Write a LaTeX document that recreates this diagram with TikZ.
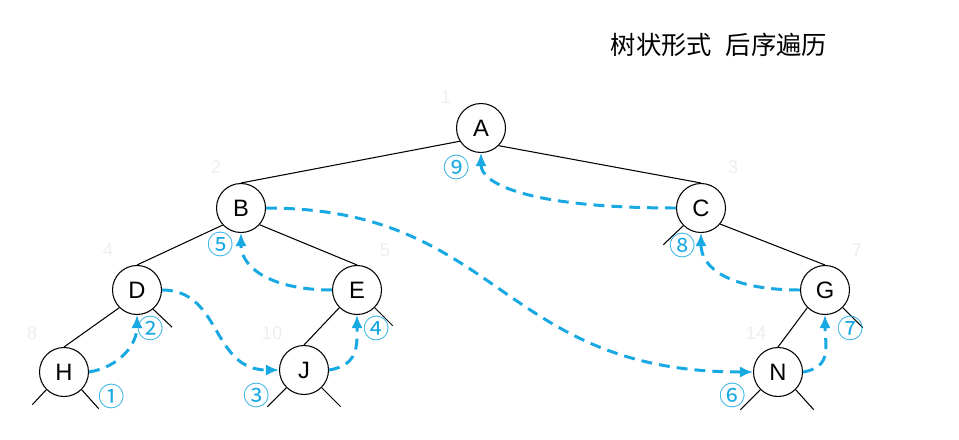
\documentclass[tikz,border=0pt]{standalone}
\usepackage{fontspec}
\setmainfont{Liberation Sans}
\newfontfamily\cjkfont{Noto Sans CJK SC}
\usepackage{tikz}
\usetikzlibrary{arrows.meta}

\definecolor{travblue}{HTML}{18A8E2}
\definecolor{idxgray}{HTML}{EEEEEE}

\begin{document}
\begin{tikzpicture}[x=0.02cm,y=-0.02cm,
  vtx/.style={draw,circle,minimum size=0.98cm,inner sep=0pt,line width=0.6pt,font=\fontsize{13.5}{15}\selectfont},
  idx/.style={text=idxgray,font=\fontsize{10.5}{12}\selectfont},
  ord/.style={text=travblue,font=\cjkfont\fontsize{15}{16}\selectfont,inner sep=0pt},
  visit/.style={travblue,line width=1.7pt,dash pattern=on 6.2pt off 4pt,-{Latex[length=7.5pt,width=6.5pt]}},
  edge/.style={line width=0.6pt}]

\useasboundingbox (0,0) rectangle (959,439);

% Title
\node[font=\cjkfont\fontsize{14.4}{16}\selectfont] (title) at (719,45) {树状形式\hspace{0.55em}后序遍历};

% Vertices
\node[vtx] (A) at (481,128) {A};
\node[vtx] (B) at (241,208) {B};
\node[vtx] (C) at (701,208) {C};
\node[vtx] (D) at (137,290) {D};
\node[vtx] (E) at (357,290) {E};
\node[vtx] (G) at (825,290) {G};
\node[vtx] (H) at (64,372) {H};
\node[vtx] (J) at (304,370) {J};
\node[vtx] (N) at (778,372) {N};

% Tree edges
\draw[edge] (A.212) -- (B.north);
\draw[edge] (A.-45) -- (C.north);
\draw[edge] (B.223) -- (D.north);
\draw[edge] (B.-42) -- (E.north);
\draw[edge] (C.-40) -- (G.north);
\draw[edge] (D.225) -- (H.north);
\draw[edge] (E.225) -- (J.north);
\draw[edge] (G.225) -- (N.north);

% Empty subtrees
\draw[edge] (C.225) -- ++(-20,19);
\draw[edge] (D.-50) -- ++(19,18);
\draw[edge] (E.-45) -- ++(18,18);
\draw[edge] (G.-45) -- ++(20,20);
\draw[edge] (H.225) -- ++(-14,15);
\draw[edge] (H.-45) -- ++(17,19);
\draw[edge] (J.225) -- ++(-19,19);
\draw[edge] (J.-45) -- ++(19,19);
\draw[edge] (N.225) -- ++(-20,20);
\draw[edge] (N.-45) -- ++(18,20);

% Level-order numbers
\node[idx] (i1) at (446,97) {1};
\node[idx] (i2) at (216,167) {2};
\node[idx] (i3) at (733,167) {3};
\node[idx] (i4) at (108,250) {4};
\node[idx] (i5) at (385,250) {5};
\node[idx] (i7) at (857,250) {7};
\node[idx] (i8) at (32,333) {8};
\node[idx] (i10) at (272,333) {10};
\node[idx] (i14) at (756,333) {14};

% Post-order path
\draw[visit] (H.east) .. controls +(30,-5) and +(0,30) .. (D.south);
\draw[visit] (D.east) .. controls +(60,0) and +(-68,0) .. (J.west);
\draw[visit] (J.east) .. controls +(30,-5) and +(0,30) .. (E.south);
\draw[visit] (E.west) .. controls +(-60,0) and +(0,35) .. (B.south);
\draw[visit] (B.east) .. controls +(235,0) and +(-254,0) .. (N.west);
\draw[visit] (N.east) .. controls +(30,-5) and +(0,30) .. (G.south);
\draw[visit] (G.west) .. controls +(-70,0) and +(0,35) .. (C.south);
\draw[visit] (C.west) .. controls +(-150,0) and +(0,30) .. (A.south);

% Visit order
\node[ord] (o1) at (112,396) {①};
\node[ord] (o2) at (151,328) {②};
\node[ord] (o3) at (257,395) {③};
\node[ord] (o4) at (377,328) {④};
\node[ord] (o5) at (221,244) {⑤};
\node[ord] (o6) at (733,395) {⑥};
\node[ord] (o7) at (851,328) {⑦};
\node[ord] (o8) at (683,245) {⑧};
\node[ord] (o9) at (457,167) {⑨};

\end{tikzpicture}
\end{document}
